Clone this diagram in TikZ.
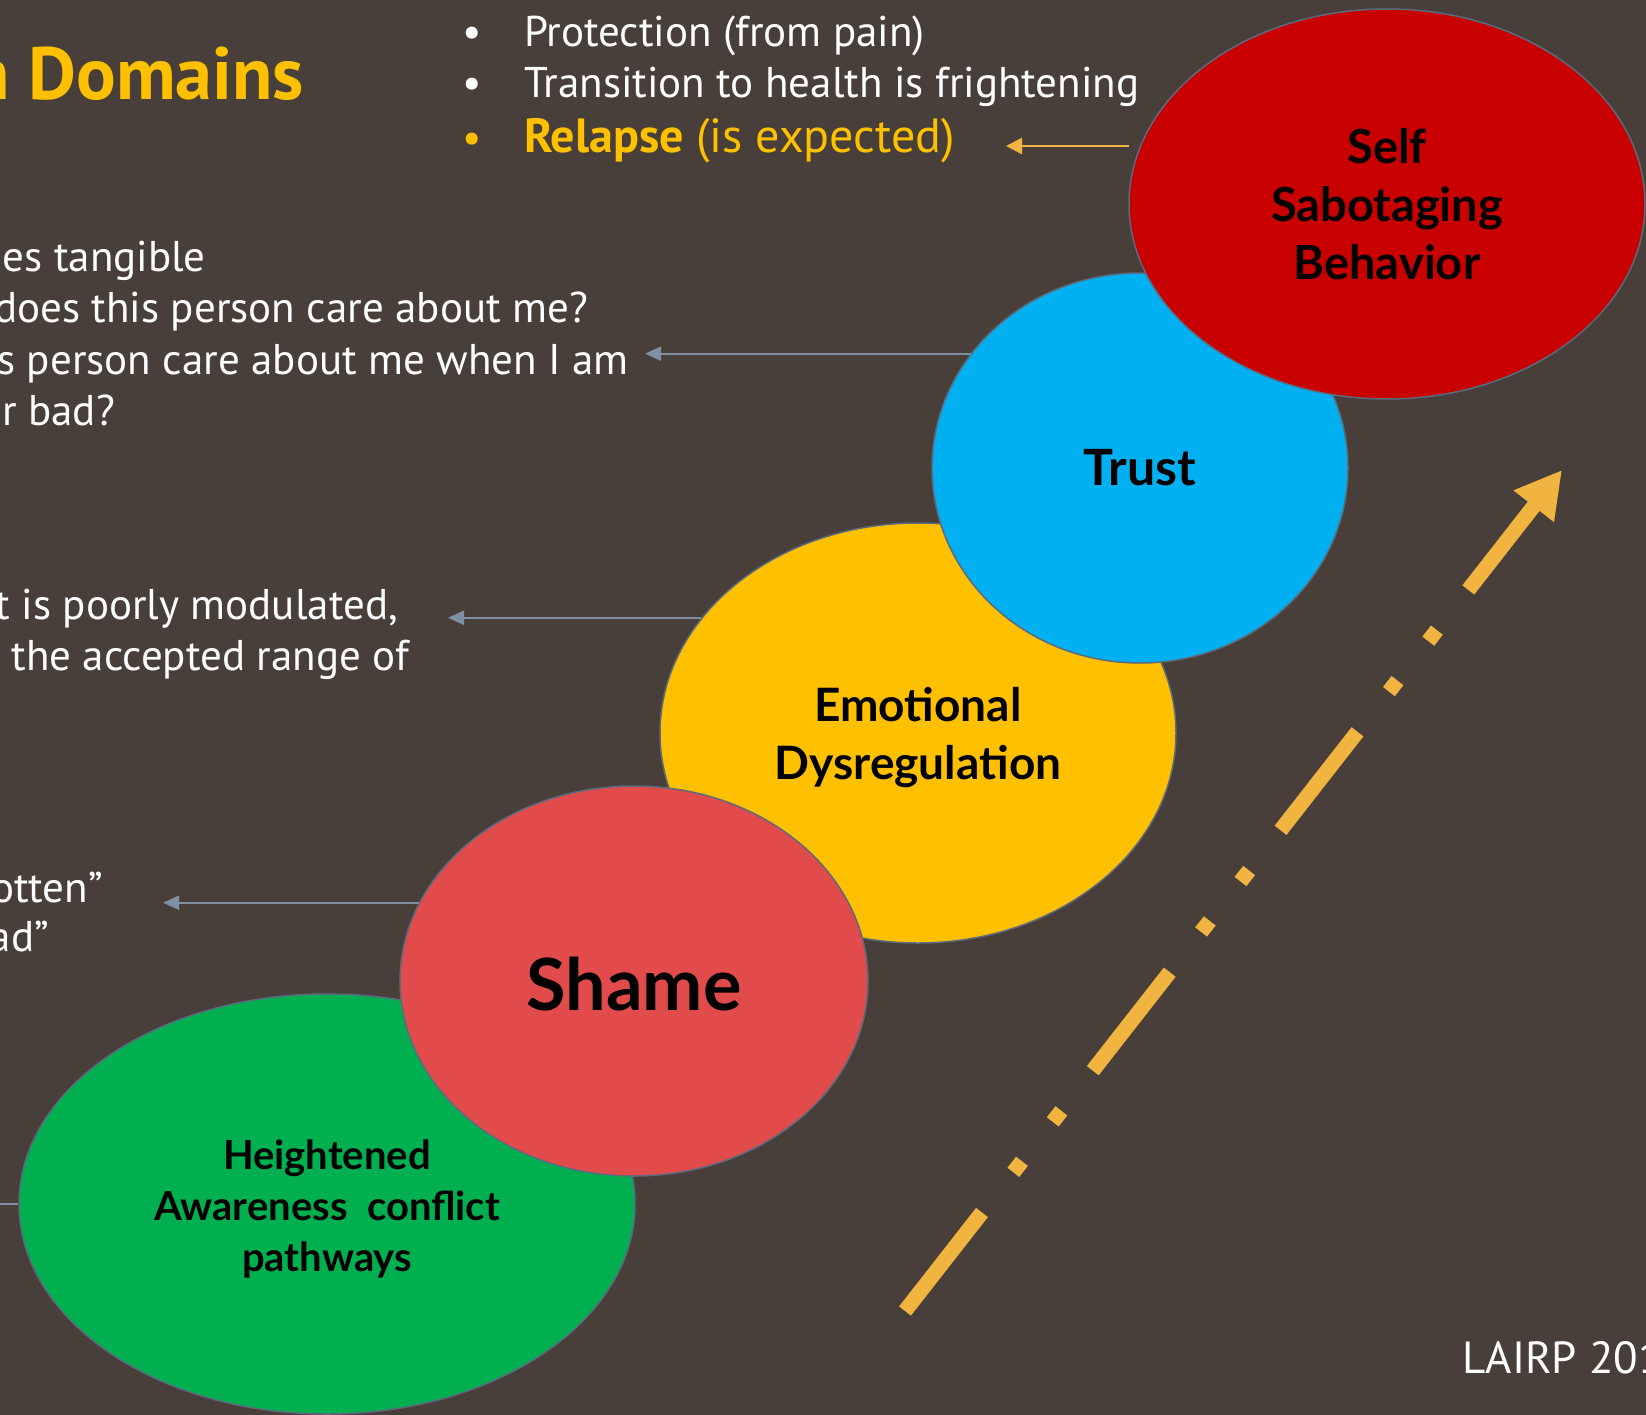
\documentclass[tikz,border=0pt]{standalone}
\usepackage{fontspec}
\setmainfont{PT Sans}
\newfontfamily\labelfont{Lato}
\usetikzlibrary{arrows.meta,shapes.geometric}
\definecolor{bg}{HTML}{483F3A}
\definecolor{sabred}{HTML}{C80000}
\definecolor{trustblue}{HTML}{00B0F0}
\definecolor{emoyellow}{HTML}{FFC000}
\definecolor{shamered}{HTML}{E24B4B}
\definecolor{greenc}{HTML}{00B050}
\definecolor{edgec}{HTML}{5B6B7D}
\definecolor{arrc}{HTML}{8090A4}
\definecolor{orangearr}{HTML}{F2B441}
\definecolor{titley}{HTML}{FFC000}
\begin{document}
\begin{tikzpicture}[x=1pt,y=-1pt,
  bubble/.style={ellipse, draw=edgec, line width=1.5pt, inner sep=0pt, align=center, text=black},
  lbl/.style={font=\labelfont\bfseries},
  thinarr/.style={draw=arrc, line width=2pt, -{Triangle[length=16pt,width=14pt]}},
  body/.style={text=white, font=\fontsize{43}{51}\selectfont, inner sep=0pt},
  bigarrow/.style={draw=orangearr, line width=15pt, line cap=butt,
     dash pattern=on 125pt off 51pt on 14pt off 50pt on 14pt off 51pt,
     -{Triangle[length=46pt,width=48pt]}}
]
\useasboundingbox (0,0) rectangle (1646,1415);
\clip (0,0) rectangle (1646,1415);
\fill[bg] (0,0) rectangle (1646,1415);

% title
\node[anchor=base east, inner sep=0pt, text=titley, font=\fontsize{74}{84}\selectfont\bfseries] (title) at (304,100) {n Domains};

% top list
\node[body, anchor=base] (b1) at (472,47) {\textbullet};
\node[body, anchor=base west] (t1) at (524,47) {Protection (from pain)};
\node[body, anchor=base] (b2) at (472,98) {\textbullet};
\node[body, anchor=base west] (t2) at (524,98) {Transition to health is frightening};
\node[body, anchor=base, text=titley] (b3) at (472,153) {\textbullet};
\node[body, anchor=base west, text=titley, font=\fontsize{48}{56}\selectfont] (t3) at (524,153) {\textbf{Relapse} (is expected)};

% left texts
\node[body, anchor=base east] (l1) at (206,272) {nes tangible};
\node[body, anchor=base east] (l2) at (588,323) {does this person care about me?};
\node[body, anchor=base east] (l3) at (629,374) {s person care about me when I am};
\node[body, anchor=base east] (l4) at (115,425) {r bad?};
\node[body, anchor=base east] (l5) at (398,619) {t is poorly modulated,};
\node[body, anchor=base east] (l6) at (409,670) {the accepted range of};
\node[body, anchor=base east] (l7) at (103,902) {otten”};
\node[body, anchor=base east] (l8) at (49,951) {ad”};

% footer
\node[body, anchor=base west, font=\fontsize{45}{51}\selectfont] (foot) at (1462,1373) {LAIRP 201};

% ellipses
\node[bubble, fill=greenc, minimum width=616pt, minimum height=420pt] (green) at (327,1204) {};
\node[bubble, fill=emoyellow, minimum width=516pt, minimum height=420pt] (emo) at (918,733) {};
\node[bubble, fill=shamered, minimum width=468pt, minimum height=390pt] (shame) at (634,981) {};
\node[bubble, fill=trustblue, minimum width=416pt, minimum height=390pt] (trust) at (1140,468) {};
\node[bubble, fill=sabred, minimum width=516pt, minimum height=390pt] (sab) at (1387,204) {};

% labels
\node[lbl, align=center, font=\labelfont\bfseries\fontsize{40}{51}\selectfont, inner sep=0pt] (greenlbl) at ([yshift=-5pt]green.center) {Heightened\\Awareness\ \ conflict\\pathways};
\node[lbl, align=center, font=\labelfont\bfseries\fontsize{46}{58}\selectfont, inner sep=0pt] (emolbl) at ([yshift=-5pt]emo.center) {Emotional\\Dysregulation};
\node[lbl, font=\labelfont\bfseries\fontsize{72}{80}\selectfont, inner sep=0pt] (shamelbl) at ([yshift=-3pt]shame.center) {Shame};
\node[lbl, font=\labelfont\bfseries\fontsize{50}{58}\selectfont, inner sep=0pt] (trustlbl) at (trust.center) {Trust};
\node[lbl, align=center, font=\labelfont\bfseries\fontsize{47}{58}\selectfont, inner sep=0pt] (sablbl) at (sab.center) {Self\\Sabotaging\\Behavior};

% pointer arrows
\coordinate (rS) at (1129,146);
\coordinate (rA) at (1006,146);
\coordinate (tA) at (645,355);
\coordinate (eA) at (448,619);
\coordinate (sA) at (163,903);
\coordinate (gA) at (0,1205);
\draw[draw=orangearr, line width=2.5pt, -{Triangle[length=16pt,width=16pt]}] (rS) -- (rA);
\draw[thinarr] (trust.146.4) -- (trust.146.4 -| tA);
\draw[thinarr] (emo.152.3) -- (emo.152.3 -| eA);
\draw[thinarr] (shame.160) -- (shame.160 -| sA);
\draw[draw=arrc, line width=2pt] (green.west) -- (green.west -| gA);

% big progress arrow
\coordinate (pStart) at (905,1311);
\coordinate (pTip) at (1562,470);
\draw[bigarrow] (pStart) -- (pTip);
\end{tikzpicture}
\end{document}
